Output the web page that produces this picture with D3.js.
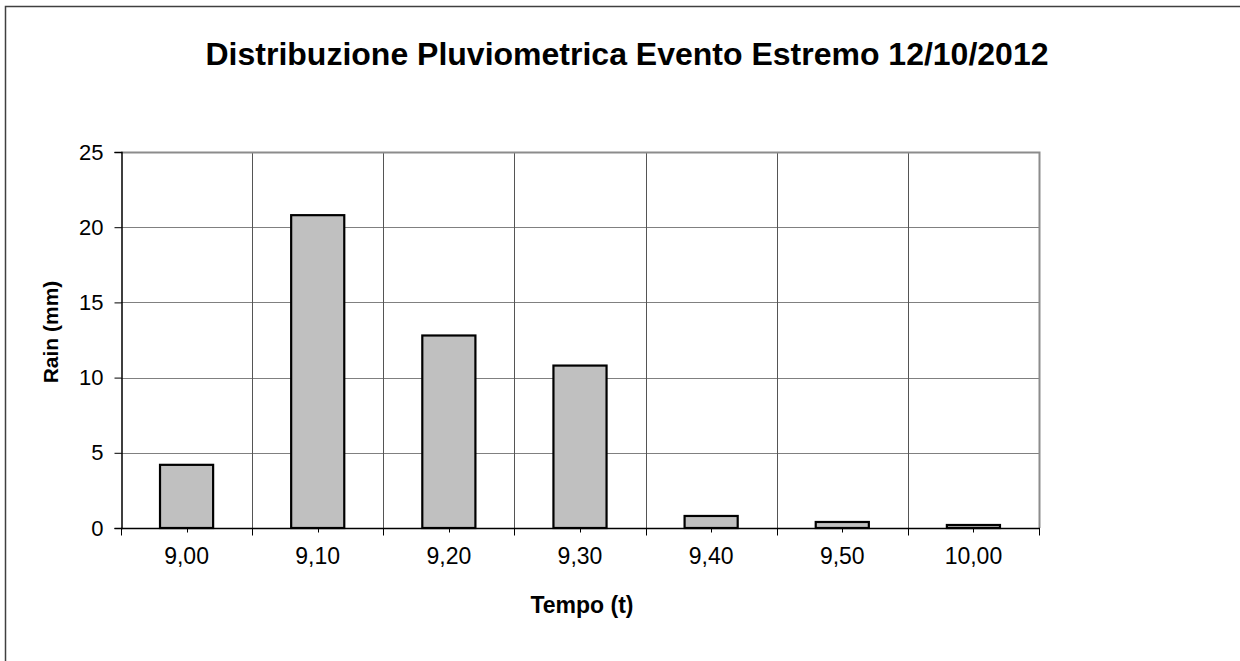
<!DOCTYPE html>
<html>
  <head>
    <script src="https://d3js.org/d3.v7.min.js"></script>
    <style>
body { margin: 0; background: #fff; }
svg text { font-family: "Liberation Sans", Arial, sans-serif; }
    </style>
  </head>
  <body>
    <script>
var categories = ["9,00", "9,10", "9,20", "9,30", "9,40", "9,50", "10,00"];
var rain = [4.2, 20.8, 12.8, 10.8, 0.8, 0.4, 0.2];
var yTicks = [0, 5, 10, 15, 20, 25];

var W = 1240, H = 661;
var pLeft = 121, pRight = 1039, pTop = 152, pBottom = 528;

var svg = d3.select("body").append("svg").attr("width", W).attr("height", H);

// outer frame (runs off the right and bottom edges)
svg.append("rect").attr("x", 5.5).attr("y", 6.5).attr("width", W + 10).attr("height", H + 10)
	.style("fill", "white").style("stroke", "#404040").style("stroke-width", 1.5);

var x = d3.scaleBand().domain(categories).range([pLeft, pRight]);
var y = d3.scaleLinear().domain([0, 25]).range([pBottom, pTop]);

// horizontal gridlines
svg.append("g").selectAll("line").data(yTicks.filter(function (d) { return d > 0 && d < 25; }))
	.enter().append("line")
	.attr("x1", pLeft).attr("x2", pRight)
	.attr("y1", function (d) { return Math.round(y(d)) + 0.5; })
	.attr("y2", function (d) { return Math.round(y(d)) + 0.5; })
	.style("stroke", "#808080").style("stroke-width", 1);

// vertical gridlines at category boundaries
svg.append("g").selectAll("line").data(categories.slice(1))
	.enter().append("line")
	.attr("x1", function (d) { return Math.round(x(d)) + 0.5; })
	.attr("x2", function (d) { return Math.round(x(d)) + 0.5; })
	.attr("y1", pTop).attr("y2", pBottom)
	.style("stroke", "#555").style("stroke-width", 1);

// plot area border top/right
svg.append("path")
	.attr("d", "M" + pLeft + "," + (pTop + 0.5) + "H" + (pRight + 0.5) + "V" + pBottom)
	.style("fill", "none").style("stroke", "#8c8c8c").style("stroke-width", 2);

// bars
var bw = x.bandwidth() * 0.405;
svg.append("g").selectAll("rect").data(rain)
	.enter().append("rect")
	.attr("x", function (d, i) { return x(categories[i]) + x.bandwidth() / 2 - bw / 2; })
	.attr("y", function (d) { return y(d); })
	.attr("width", bw)
	.attr("height", function (d) { return y(0) - y(d); })
	.style("fill", "#c0c0c0").style("stroke", "#000").style("stroke-width", 2.2);

// y axis
var yAxis = svg.append("g").attr("transform", "translate(" + (pLeft + 0.5) + ",0)")
	.call(d3.axisLeft(y).tickValues(yTicks).tickSize(7).tickPadding(11));
yAxis.select(".domain").style("stroke", "#000").style("stroke-width", 1.5);
yAxis.selectAll("line").style("stroke", "#000");
yAxis.selectAll("text").style("font-size", "22px").style("fill", "#000")
	.style("font-family", "'Liberation Sans', Arial, sans-serif");

// x axis
var xg = svg.append("g").attr("transform", "translate(0," + (pBottom + 0.5) + ")");
xg.append("line").attr("x1", pLeft).attr("x2", pRight + 1).style("stroke", "#000").style("stroke-width", 1.5);
var bounds = categories.map(function (c) { return x(c); }).concat([pRight]);
xg.selectAll("line.b").data(bounds).enter().append("line").attr("class", "b")
	.attr("x1", function (d) { return Math.round(d) + 0.5; })
	.attr("x2", function (d) { return Math.round(d) + 0.5; })
	.attr("y1", 0).attr("y2", 7).style("stroke", "#000");
xg.selectAll("line.c").data(categories).enter().append("line").attr("class", "c")
	.attr("x1", function (d) { return Math.round(x(d) + x.bandwidth() / 2) + 0.5; })
	.attr("x2", function (d) { return Math.round(x(d) + x.bandwidth() / 2) + 0.5; })
	.attr("y1", 0).attr("y2", 4).style("stroke", "#000");
xg.selectAll("text").data(categories).enter().append("text")
	.attr("x", function (d) { return x(d) + x.bandwidth() / 2; })
	.attr("y", 35)
	.attr("text-anchor", "middle")
	.style("font-size", "23px")
	.text(function (d) { return d; });

// titles
svg.append("text").attr("x", 627).attr("y", 65).attr("text-anchor", "middle")
	.style("font-size", "32px").style("font-weight", "bold")
	.text("Distribuzione Pluviometrica Evento Estremo 12/10/2012");
svg.append("text").attr("x", 582).attr("y", 613).attr("text-anchor", "middle")
	.style("font-size", "23px").style("font-weight", "bold")
	.text("Tempo (t)");
svg.append("text").attr("transform", "translate(58,332) rotate(-90)").attr("text-anchor", "middle")
	.style("font-size", "21px").style("font-weight", "bold")
	.text("Rain (mm)");
    </script>
  </body>
</html>
